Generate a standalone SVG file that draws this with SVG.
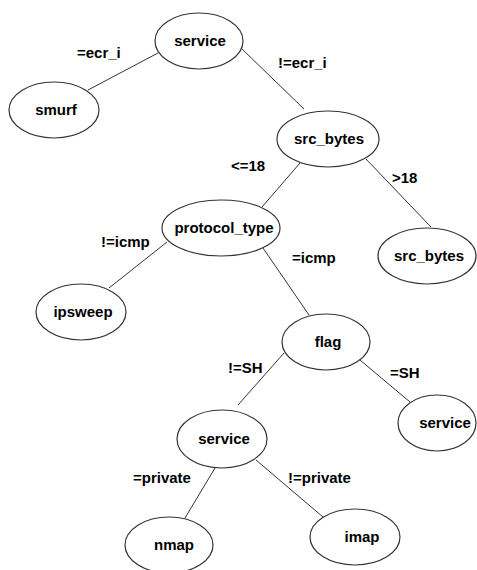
<svg xmlns="http://www.w3.org/2000/svg" width="477" height="570" viewBox="0 0 477 570">
<style>
.n ellipse{fill:#fff;stroke:#333;stroke-width:1.2}
text{font-family:"Liberation Sans",Arial,sans-serif;font-weight:bold;font-size:15px;fill:#000}
.n text{text-anchor:middle}
#edges line{stroke:#333;stroke-width:1}
</style>
<rect width="477" height="570" fill="#fff"/>
<g id="edges">
<line x1="158" y1="53" x2="88" y2="90"/>
<line x1="242" y1="49" x2="304" y2="109"/>
<line x1="300" y1="163" x2="262" y2="207"/>
<line x1="366" y1="159" x2="431" y2="227"/>
<line x1="167" y1="242" x2="109" y2="288"/>
<line x1="263" y1="248" x2="309" y2="315"/>
<line x1="284" y1="353" x2="238" y2="405"/>
<line x1="360" y1="360" x2="410" y2="402"/>
<line x1="215" y1="468" x2="185" y2="518"/>
<line x1="256" y1="460" x2="323" y2="517"/>
</g>
<g id="labels">
<text x="77" y="58">=ecr_i</text>
<text x="278" y="68">!=ecr_i</text>
<text x="231" y="171">&lt;=18</text>
<text x="392" y="183">&gt;18</text>
<text x="101" y="247">!=icmp</text>
<text x="292" y="263">=icmp</text>
<text x="228" y="373">!=SH</text>
<text x="390" y="378">=SH</text>
<text x="133" y="483">=private</text>
<text x="288" y="483">!=private</text>
</g>
<g id="n-service" class="n"><ellipse cx="199" cy="41" rx="44" ry="28"/><text x="200" y="46">service</text></g>
<g id="n-smurf" class="n"><ellipse cx="54" cy="110" rx="45" ry="28"/><text x="56" y="115">smurf</text></g>
<g id="n-src_bytes" class="n"><ellipse cx="328" cy="139" rx="51" ry="28"/><text x="329" y="144">src_bytes</text></g>
<g id="n-protocol_type" class="n"><ellipse cx="221" cy="228" rx="59" ry="28"/><text x="224" y="233">protocol_type</text></g>
<g id="n-src_bytes2" class="n"><ellipse cx="427" cy="256" rx="49" ry="28"/><text x="429" y="261">src_bytes</text></g>
<g id="n-ipsweep" class="n"><ellipse cx="81" cy="312" rx="45" ry="28"/><text x="83" y="317">ipsweep</text></g>
<g id="n-flag" class="n"><ellipse cx="326" cy="342" rx="44" ry="28"/><text x="328" y="347">flag</text></g>
<g id="n-service3" class="n"><ellipse cx="437" cy="423" rx="39" ry="28"/><text x="445" y="428">service</text></g>
<g id="n-service2" class="n"><ellipse cx="222" cy="439" rx="45" ry="29"/><text x="224" y="444">service</text></g>
<g id="n-nmap" class="n"><ellipse cx="169" cy="545" rx="44" ry="28"/><text x="174" y="550">nmap</text></g>
<g id="n-imap" class="n"><ellipse cx="355" cy="537" rx="45" ry="28"/><text x="362" y="542">imap</text></g>
</svg>
